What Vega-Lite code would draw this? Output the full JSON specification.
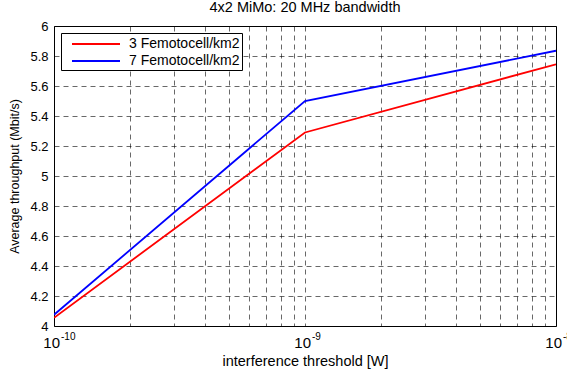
{
  "$schema": "https://vega.github.io/schema/vega-lite/v6.json",
  "width": 502,
  "height": 300,
  "autosize": {"type": "none"},
  "padding": {"left": 54, "top": 26, "right": 11, "bottom": 43},
  "background": "white",
  "config": {
    "font": "Liberation Sans",
    "view": {"stroke": "black", "strokeWidth": 1}
  },
  "title": {
    "text": "4x2 MiMo: 20 MHz bandwidth",
    "fontSize": 14.5,
    "fontWeight": "normal",
    "color": "black",
    "offset": 5
  },
  "datasets": {
    "series": [
      {"t": 1e-10, "v": 4.055, "s": "3 Femotocell/km2"},
      {"t": 1e-9, "v": 5.29, "s": "3 Femotocell/km2"},
      {"t": 1e-8, "v": 5.745, "s": "3 Femotocell/km2"},
      {"t": 1e-10, "v": 4.075, "s": "7 Femotocell/km2"},
      {"t": 1e-9, "v": 5.5, "s": "7 Femotocell/km2"},
      {"t": 1e-8, "v": 5.835, "s": "7 Femotocell/km2"}
    ],
    "xlabels": [
      {"t": 1e-10, "b": "10", "e": "-10"},
      {"t": 1e-9, "b": "10", "e": "-9"},
      {"t": 1e-8, "b": "10", "e": "-8"}
    ]
  },
  "resolve": {"scale": {"x": "independent", "y": "independent"}, "axis": {"x": "independent", "y": "independent"}},
  "layer": [
    {
      "data": {"name": "series"},
      "mark": {"type": "line", "strokeWidth": 1.8, "clip": true},
      "encoding": {
        "x": {
          "field": "t",
          "type": "quantitative",
          "scale": {"type": "log", "domain": [1e-10, 1e-8], "nice": false},
          "axis": {
            "title": "interference threshold [W]",
            "titleFontSize": 14.5,
            "titleFontWeight": "normal",
            "titleColor": "black",
            "titlePadding": 28,
            "values": [1e-10, 2e-10, 3e-10, 4e-10, 5e-10, 6e-10, 7e-10, 8e-10, 9e-10, 1e-9, 2e-9, 3e-9, 4e-9, 5e-9, 6e-9, 7e-9, 8e-9, 9e-9, 1e-8],
            "labels": false,
            "ticks": false,
            "domain": false,
            "grid": true,
            "gridColor": "black",
            "gridDash": [5, 4],
            "gridWidth": 0.7,
            "gridOpacity": 0.85
          }
        },
        "y": {
          "field": "v",
          "type": "quantitative",
          "scale": {"domain": [4, 6], "nice": false, "zero": false},
          "axis": {
            "title": "Average throughput (Mbit/s)",
            "titleFontSize": 12.5,
            "titleFontWeight": "normal",
            "titleColor": "black",
            "titlePadding": 8,
            "values": [4, 4.2, 4.4, 4.6, 4.8, 5, 5.2, 5.4, 5.6, 5.8, 6],
            "format": ".1~f",
            "labelFontSize": 13,
            "labelColor": "black",
            "labelPadding": 6,
            "labelOverlap": false,
            "labelFlush": false,
            "ticks": false,
            "domain": false,
            "grid": true,
            "gridColor": "black",
            "gridDash": [5, 4],
            "gridWidth": 0.7,
            "gridOpacity": 0.85
          }
        },
        "color": {
          "field": "s",
          "type": "nominal",
          "scale": {"domain": ["3 Femotocell/km2", "7 Femotocell/km2"], "range": ["#ff0000", "#0000ff"]},
          "legend": {
            "title": null,
            "orient": "top-left",
            "offset": 7,
            "fillColor": "white",
            "strokeColor": "black",
            "padding": 2,
            "symbolType": "M-3,0H3",
            "symbolSize": 256,
            "symbolOffset": 24,
            "symbolStrokeWidth": 2,
            "labelOffset": 24,
            "labelFontSize": 14,
            "labelColor": "black",
            "rowPadding": 1
          }
        }
      }
    },
    {
      "data": {"name": "xlabels"},
      "mark": {"type": "text", "align": "right", "baseline": "top", "dx": 6, "dy": 10, "fontSize": 15, "color": "black"},
      "encoding": {
        "x": {"field": "t", "type": "quantitative", "scale": {"type": "log", "domain": [1e-10, 1e-8], "nice": false}, "axis": null},
        "y": {"datum": 4, "type": "quantitative", "scale": {"domain": [4, 6], "nice": false, "zero": false}, "axis": null},
        "text": {"field": "b"}
      }
    },
    {
      "data": {"name": "xlabels"},
      "mark": {"type": "text", "align": "left", "baseline": "top", "dx": 7, "dy": 6, "fontSize": 10, "color": "black"},
      "encoding": {
        "x": {"field": "t", "type": "quantitative", "scale": {"type": "log", "domain": [1e-10, 1e-8], "nice": false}, "axis": null},
        "y": {"datum": 4, "type": "quantitative", "scale": {"domain": [4, 6], "nice": false, "zero": false}, "axis": null},
        "text": {"field": "e"}
      }
    }
  ]
}
